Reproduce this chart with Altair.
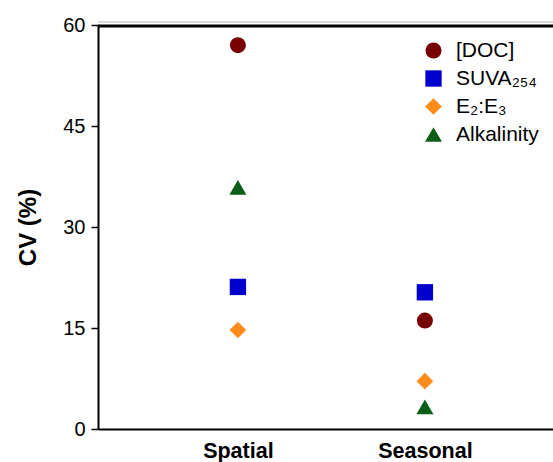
import altair as alt
import pandas as pd

# Coefficient of variation (%) for each water-quality variable
scales = ["Spatial", "Seasonal"]
series = ["[DOC]", "SUVA₂₅₄", "E₂:E₃", "Alkalinity"]
doc_cv = [57.0, 16.1]
suva_cv = [21.1, 20.3]
e2e3_cv = [14.7, 7.1]
alk_cv = [35.9, 3.3]

colors = ["#780000", "#0000cc", "#ff8c1a", "#0b5e17"]
shapes = ["circle", "square", "diamond", "triangle-up"]
sizes = [256, 289, 324, 400]

rows = []
for name, vals in zip(series, [doc_cv, suva_cv, e2e3_cv, alk_cv]):
    for sc, v in zip(scales, vals):
        rows.append({"scale": sc, "series": name, "cv": v})
df = pd.DataFrame(rows)

FONT = "Liberation Sans"
W, H = 455, 404

legend = alt.Legend(
    title=None, orient="none", legendX=325, legendY=15,
    labelFont=FONT, labelFontSize=21, labelColor="black",
    labelOffset=12, rowPadding=6, padding=0,
    symbolOpacity=1, symbolStrokeWidth=0,
)

points = alt.Chart(df).mark_point(filled=True, opacity=1).encode(
    x=alt.X(
        "scale:N", sort=scales,
        scale=alt.Scale(type="point", padding=0.7166, align=0.522),
        axis=alt.Axis(
            title=None, ticks=False, tickSize=0, labelAngle=0,
            labelFont=FONT, labelFontSize=21.5, labelFontWeight="bold",
            labelColor="black", labelPadding=11,
            domainColor="black", domainWidth=2,
        ),
    ),
    y=alt.Y(
        "cv:Q",
        scale=alt.Scale(domain=[0, 60], nice=False, zero=True),
        axis=alt.Axis(
            values=[0, 15, 30, 45, 60], title="CV (%)", grid=False,
            labelFont=FONT, labelFontSize=20, labelColor="black", labelPadding=6,
            tickSize=7, tickWidth=1.5, tickColor="black",
            domainColor="black", domainWidth=2,
            titleFont=FONT, titleFontSize=24, titleFontWeight="bold",
            titleColor="black", titlePadding=22,
        ),
    ),
    color=alt.Color("series:N", sort=series,
                    scale=alt.Scale(domain=series, range=colors), legend=legend),
    shape=alt.Shape("series:N", sort=series,
                    scale=alt.Scale(domain=series, range=shapes), legend=legend),
    size=alt.Size("series:N", sort=series,
                  scale=alt.Scale(domain=series, range=sizes), legend=legend),
)

# frame line along the top of the plot, plus the faint line just above it
# (a rule with only a y position spans the full plot width)
frame = pd.DataFrame({"k": [0]})
top_line = alt.Chart(frame).mark_rule(color="black", strokeWidth=3).encode(
    y=alt.value(1)
)
upper_line = alt.Chart(frame).mark_rule(color="#b0b0b0", strokeWidth=1).encode(
    y=alt.value(-3)
)

chart = alt.layer(upper_line, top_line, points).properties(
    width=W, height=H,
    autosize=alt.AutoSizeParams(type="none"),
    padding={"left": 98, "top": 25, "right": 0, "bottom": 33},
    background="white",
).configure_view(stroke="#ffffff", strokeOpacity=0, strokeWidth=0)

chart.save("out.html", embed_options={"renderer": "svg", "actions": False})
